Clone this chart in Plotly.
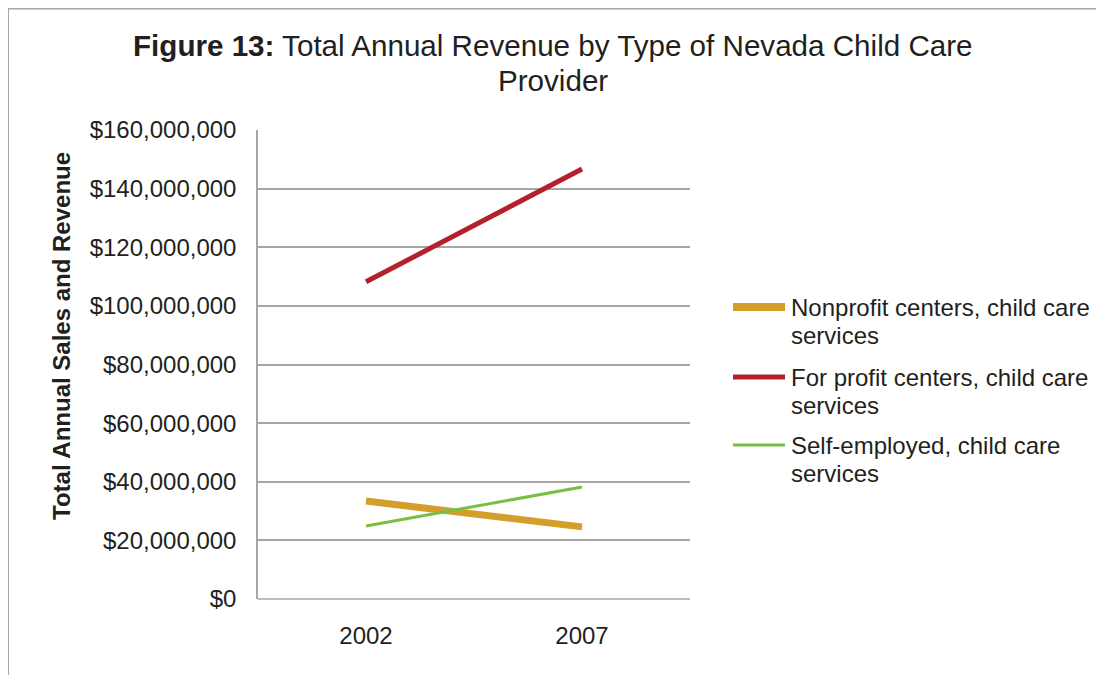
import plotly.graph_objects as go

years = ["2002", "2007"]
nonprofit = [33.4e6, 24.6e6]
forprofit = [108.2e6, 146.7e6]
selfemp = [24.9e6, 38.2e6]
legend_lines = [["Nonprofit centers, child care", "services"],
                ["For profit centers, child care", "services"],
                ["Self-employed, child care", "services"]]
names = [" ".join(l) for l in legend_lines]
colors = ["#D49E2A", "#B5212B", "#77C043"]
widths = [7, 5, 3]
series = [nonprofit, forprofit, selfemp]

font = "Liberation Sans, Arial, sans-serif"
TXT = "#231F20"
GRID = "#A6A6A6"

# page body has an 8px margin; figure coordinates = screen - 8
O = 8
W, H = 1104 - O, 675 - O
L, R, T, B = 258 - O, W - (690 - O), 130 - O, H - (599 - O)
pw, ph = W - L - R, H - T - B


def px_x(x):  # screen px -> paper x
    return (x - O - L) / pw


def px_y(y):  # screen px -> paper y
    return (H - B - (y - O)) / ph


fig = go.Figure()
for n, s, c, w in zip(names, series, colors, widths):
    fig.add_trace(go.Scatter(x=years, y=s, name=n, mode="lines",
                             line=dict(color=c, width=w), showlegend=False))

fig.update_layout(
    width=W, height=H,
    margin=dict(l=L, r=R, t=T, b=B),
    paper_bgcolor="white", plot_bgcolor="white",
    font=dict(family=font, size=24, color=TXT),
    xaxis=dict(type="category", range=[-0.5, 1.5], showgrid=False,
               showline=False, zeroline=False, ticks="",
               ticklabelstandoff=20, tickfont=dict(size=24)),
    yaxis=dict(range=[0, 160e6], dtick=20e6, tickprefix="$", tickformat=",",
               showgrid=True, gridcolor=GRID, gridwidth=1.5,
               showline=True, linecolor=GRID, linewidth=1.5,
               zeroline=False, ticks="", ticklabelstandoff=15,
               tickfont=dict(size=24)),
    showlegend=False,
)

# bottom baseline
fig.add_shape(type="line", xref="paper", yref="paper", x0=0, x1=1, y0=0, y1=0,
              line=dict(color=GRID, width=1.5))
# outer frame (left and top edges)
fig.add_shape(type="line", xref="paper", yref="paper",
              x0=px_x(8), x1=px_x(8), y0=px_y(8), y1=px_y(700),
              line=dict(color=GRID, width=2))
fig.add_shape(type="line", xref="paper", yref="paper",
              x0=px_x(8), x1=px_x(1120), y0=px_y(8.5), y1=px_y(8.5),
              line=dict(color=GRID, width=2))

# title
fig.add_annotation(text="<b>Figure 13:</b> Total Annual Revenue by Type of Nevada Child Care",
                   xref="paper", yref="paper", x=px_x(552.5), y=px_y(46),
                   xanchor="center", yanchor="middle", showarrow=False,
                   font=dict(size=29.6, family=font, color=TXT))
fig.add_annotation(text="Provider",
                   xref="paper", yref="paper", x=px_x(552.5), y=px_y(80),
                   xanchor="center", yanchor="middle", showarrow=False,
                   font=dict(size=29.6, family=font, color=TXT))

# y axis title
fig.add_annotation(text="<b>Total Annual Sales and Revenue</b>", textangle=-90,
                   xref="paper", yref="paper", x=px_x(61), y=px_y(336),
                   xanchor="center", yanchor="middle",
                   showarrow=False, font=dict(size=24, family=font, color=TXT))

# legend (drawn manually for exact spacing)
leg_y = [307, 377, 445]
for lines, c, w, y in zip(legend_lines, colors, [8, 5, 3], leg_y):
    fig.add_shape(type="line", xref="paper", yref="paper",
                  x0=px_x(733), x1=px_x(785), y0=px_y(y), y1=px_y(y),
                  line=dict(color=c, width=w))
    for i, t in enumerate(lines):
        fig.add_annotation(text=t, xref="paper", yref="paper",
                           x=px_x(789), y=px_y(y + 28 * i),
                           xanchor="left", yanchor="middle", showarrow=False,
                           font=dict(size=24, family=font, color=TXT))

fig.write_html("out.html")
